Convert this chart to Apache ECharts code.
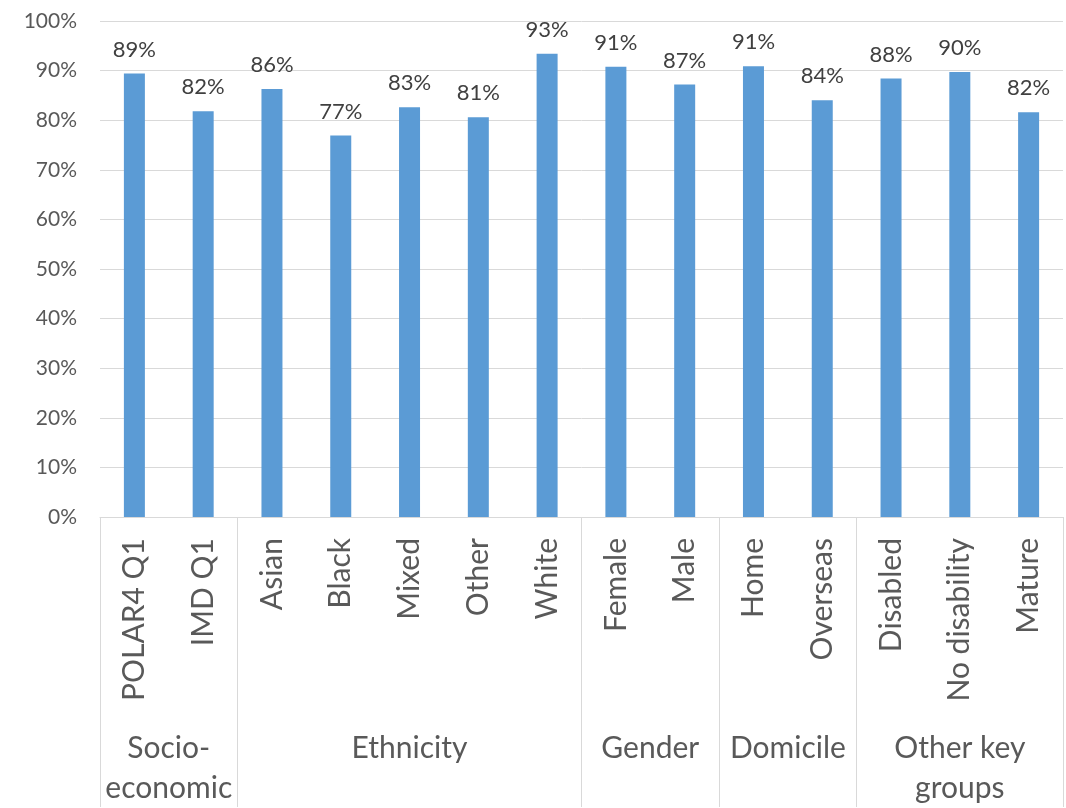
<!DOCTYPE html>
<html><head><meta charset="utf-8">
<script src="https://cdn.jsdelivr.net/npm/echarts@6/dist/echarts.min.js"></script>
<style>html,body{margin:0;padding:0;background:#fff}#c{width:1066px;height:808px}</style>
</head><body><div id="c"></div>
<script>
const categories = ['POLAR4 Q1','IMD Q1','Asian','Black','Mixed','Other','White','Female','Male','Home','Overseas','Disabled','No disability','Mature'];
const values = [0.894,0.818,0.863,0.769,0.826,0.806,0.934,0.908,0.872,0.909,0.840,0.884,0.897,0.816];
const groups = ['Socio-\neconomic','Ethnicity','Gender','Domicile','Other key\ngroups'];
const groupSizes = [2,5,2,2,3];
const yTicks = [0,0.1,0.2,0.3,0.4,0.5,0.6,0.7,0.8,0.9,1];

const boundaries = [0];
groupSizes.forEach(s => boundaries.push(boundaries[boundaries.length-1] + s));
const centers = groupSizes.map((s,i) => boundaries[i] + s/2);

const FONT = 'Lato';
const chart = echarts.init(document.getElementById('c'));
chart.setOption({
  animation: false,
  grid: {left: 100, right: 3, top: 21, bottom: 287},
  xAxis: [{
    type: 'category', data: categories,
    axisLine: {lineStyle: {color: '#d9d9d9', width: 1}},
    axisTick: {show: false},
    axisLabel: {rotate: 90, interval: 0, margin: 21, color: '#595959', fontSize: 30, fontFamily: FONT}
  }, {
    type: 'value', min: 0, max: categories.length, position: 'bottom',
    axisLine: {show: false},
    splitLine: {show: false},
    axisTick: {show: true, customValues: boundaries, length: 290, lineStyle: {color: '#d9d9d9', width: 1}},
    axisLabel: {customValues: centers, margin: 211, verticalAlign: 'top', lineHeight: 40,
      color: '#595959', fontSize: 30, fontFamily: FONT,
      formatter: v => { const i = centers.indexOf(v); return i >= 0 ? groups[i] : ''; }}
  }],
  yAxis: {
    type: 'value', min: 0, max: 1, interval: 0.1,
    axisLine: {show: false}, axisTick: {show: false},
    splitLine: {lineStyle: {color: '#d9d9d9', width: 1}},
    axisLabel: {margin: 23, color: '#595959', fontSize: 21, fontFamily: FONT,
      formatter: v => Math.round(v*100) + '%'}
  },
  series: [{
    type: 'bar', xAxisIndex: 0, data: values, barWidth: 21,
    itemStyle: {color: '#5b9bd5'},
    label: {show: true, position: 'top', distance: 13, color: '#404040', fontSize: 22, fontFamily: FONT,
      formatter: p => Math.round(p.value*100) + '%'}
  }]
});
</script></body></html>
